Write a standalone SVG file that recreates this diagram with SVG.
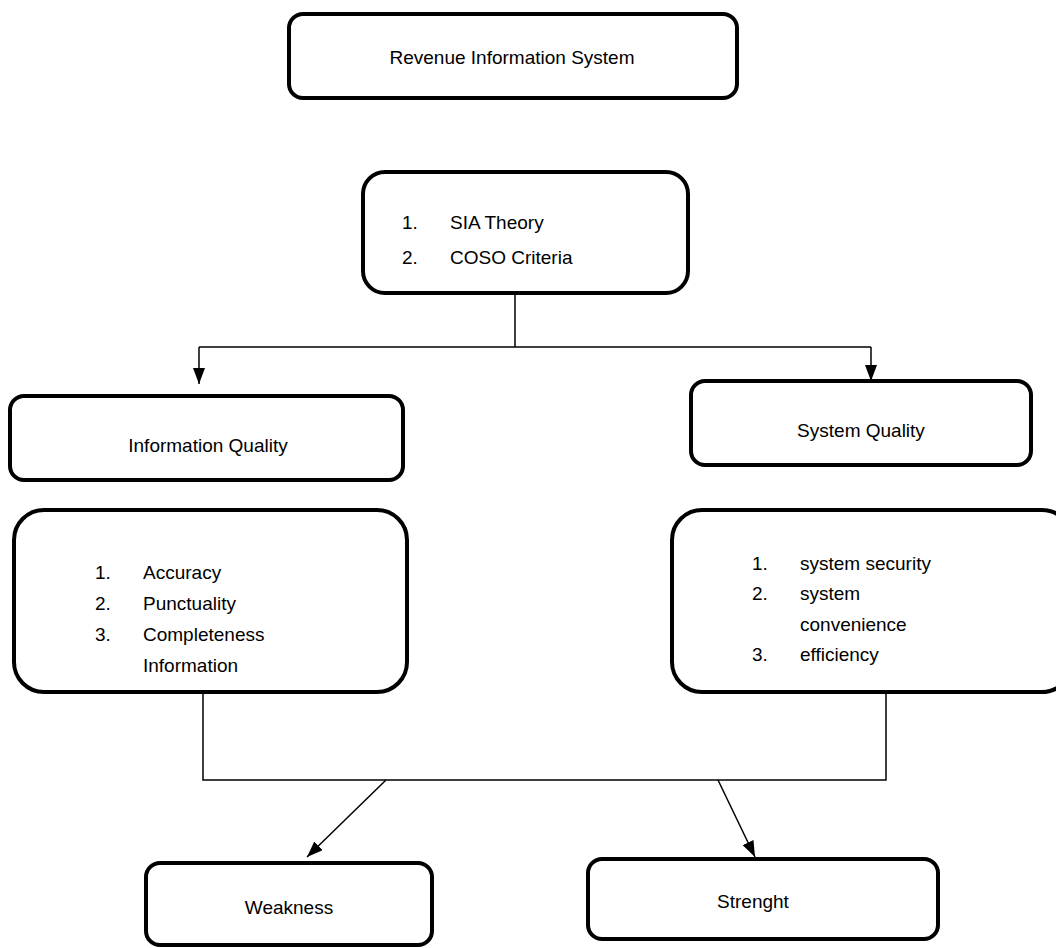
<svg xmlns="http://www.w3.org/2000/svg" width="1056" height="948" viewBox="0 0 1056 948">
<defs>
<marker id="arr" markerWidth="16" markerHeight="12" refX="16" refY="6" orient="auto" markerUnits="userSpaceOnUse" viewBox="0 0 16 12">
<path d="M0,0 L16,6 L0,12 Z" fill="#000"/>
</marker>
<style>
.box{fill:#fff;stroke:#000;stroke-width:4}
.t{font-family:"Liberation Sans",Arial,sans-serif;font-size:19px;fill:#000}
.c{text-anchor:middle}
.ln{fill:none;stroke:#000;stroke-width:1.5}
</style>
</defs>
<rect width="1056" height="948" fill="#fff"/>
<g id="connectors">
<polyline class="ln" points="515,293 515,347"/>
<polyline class="ln" points="199,347 871,347"/>
<line class="ln" x1="199" y1="347" x2="199" y2="384" marker-end="url(#arr)"/>
<line class="ln" x1="871" y1="347" x2="871" y2="381" marker-end="url(#arr)"/>
<polyline class="ln" points="203,692 203,780 886,780 886,692"/>
<line class="ln" x1="386" y1="780" x2="307" y2="857" marker-end="url(#arr)"/>
<line class="ln" x1="718" y1="780" x2="755" y2="857" marker-end="url(#arr)"/>
</g>
<g id="revenue">
<rect class="box" x="289" y="14" width="448" height="84" rx="14"/>
<text class="t c" x="512" y="64">Revenue Information System</text>
</g>
<g id="theory">
<rect class="box" x="363" y="172" width="325" height="121" rx="22"/>
<text class="t" x="402" y="229">1.</text><text class="t" x="450" y="229">SIA Theory</text>
<text class="t" x="402" y="264">2.</text><text class="t" x="450" y="264">COSO Criteria</text>
</g>
<g id="infoq">
<rect class="box" x="10" y="396" width="393" height="84" rx="14"/>
<text class="t c" x="208" y="452">Information Quality</text>
</g>
<g id="sysq">
<rect class="box" x="691" y="381" width="340" height="84" rx="14"/>
<text class="t c" x="861" y="437">System Quality</text>
</g>
<g id="infolist">
<rect class="box" x="14" y="510" width="393" height="182" rx="30"/>
<text class="t" x="95" y="579">1.</text><text class="t" x="143" y="579">Accuracy</text>
<text class="t" x="95" y="610">2.</text><text class="t" x="143" y="610">Punctuality</text>
<text class="t" x="95" y="641">3.</text><text class="t" x="143" y="641">Completeness</text>
<text class="t" x="143" y="672">Information</text>
</g>
<g id="syslist">
<rect class="box" x="672" y="510" width="400" height="182" rx="30"/>
<text class="t" x="752" y="570">1.</text><text class="t" x="800" y="570">system security</text>
<text class="t" x="752" y="600">2.</text><text class="t" x="800" y="600">system</text>
<text class="t" x="800" y="631">convenience</text>
<text class="t" x="752" y="661">3.</text><text class="t" x="800" y="661">efficiency</text>
</g>
<g id="weakness">
<rect class="box" x="146" y="863" width="286" height="82" rx="14"/>
<text class="t c" x="289" y="914">Weakness</text>
</g>
<g id="strength">
<rect class="box" x="588" y="859" width="350" height="80" rx="14"/>
<text class="t c" x="753" y="908">Strenght</text>
</g>
</svg>
